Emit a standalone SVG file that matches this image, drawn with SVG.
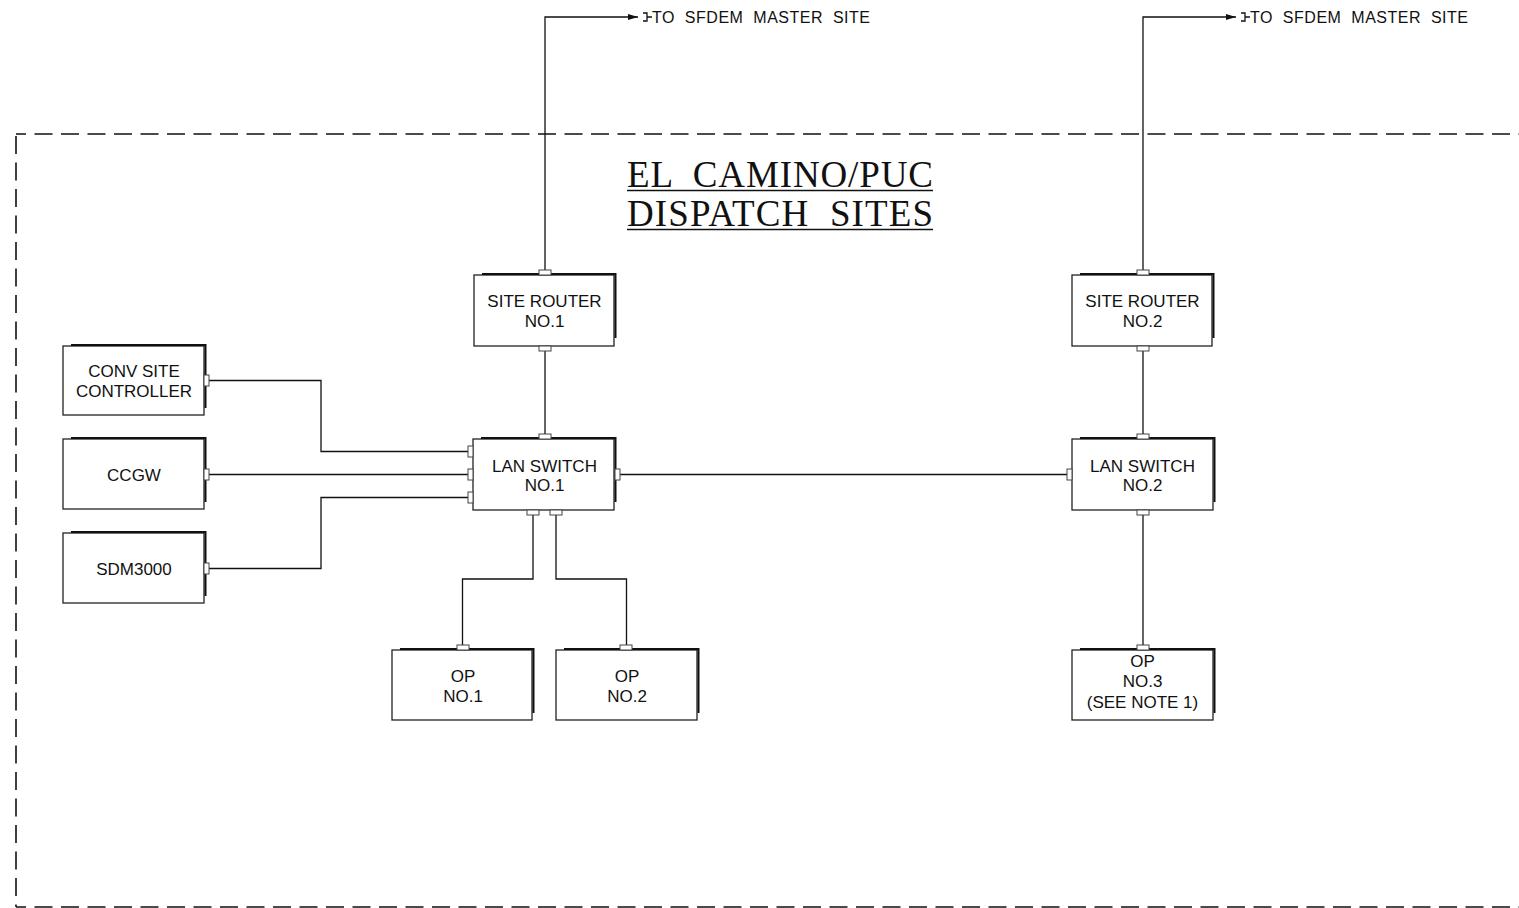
<svg xmlns="http://www.w3.org/2000/svg" width="1519" height="908" viewBox="0 0 1519 908">
<defs>
<style>
.box{fill:#fff;stroke:#222;stroke-width:1.3}
.sh{fill:none;stroke:#111;stroke-width:2}
.port{fill:#fff;stroke:#444;stroke-width:1}
.lbl{font-family:"Liberation Sans",Arial,sans-serif;font-size:17px;fill:#111;text-anchor:middle}
.ext{font-family:"Liberation Sans",Arial,sans-serif;font-size:16px;fill:#111}
.ttl{font-family:"Liberation Serif","Times New Roman",serif;font-size:37px;fill:#111}
.wire{fill:none;stroke:#111;stroke-width:1.3}
.dash{fill:none;stroke:#111;stroke-width:1.6;stroke-dasharray:18 8.5}
</style>
<marker id="arr" markerWidth="10" markerHeight="7" refX="10" refY="3.5" orient="auto" markerUnits="userSpaceOnUse">
<path d="M0,0.5 L10,3.5 L0,6.5 Z" fill="#111"/>
</marker>
</defs>
<rect width="1519" height="908" fill="#fff"/>

<g id="border">
<path class="dash" d="M16,134 V907" stroke-dashoffset="-2"/>
<path class="dash" d="M16,134 H1519" stroke-dashoffset="8"/>
<path class="dash" d="M16,907 H1519" stroke-dashoffset="8"/>
</g>

<g id="title">
<text class="ttl" x="627" y="187" textLength="306" lengthAdjust="spacing" xml:space="preserve">EL  CAMINO/PUC</text>
<line x1="627" y1="190.5" x2="933" y2="190.5" stroke="#111" stroke-width="1.3"/>
<text class="ttl" x="627" y="226" textLength="306" lengthAdjust="spacing" xml:space="preserve">DISPATCH  SITES</text>
<line x1="627" y1="229.5" x2="933" y2="229.5" stroke="#111" stroke-width="1.3"/>
</g>

<g id="connectors">
<path class="wire" d="M545,270 V17 H638" marker-end="url(#arr)"/>
<path class="wire" d="M1143,270 V17 H1236" marker-end="url(#arr)"/>
<path class="wire" d="M643,13 H647 V21 H643 M647,17 H652"/>
<path class="wire" d="M1241,13 H1245 V21 H1241 M1245,17 H1250"/>
<path class="wire" d="M545,351 V434"/>
<path class="wire" d="M1143,351 V434"/>
<path class="wire" d="M209,380.5 H321 V451.5 H468"/>
<path class="wire" d="M209,474.5 H468"/>
<path class="wire" d="M209,568.5 H321 V497.5 H468"/>
<path class="wire" d="M533,515 V579 H462.5 V645"/>
<path class="wire" d="M556,515 V579 H626.5 V645"/>
<path class="wire" d="M620,474.5 H1067"/>
<path class="wire" d="M1143,515 V645"/>
</g>

<g id="offpage-labels">
<text class="ext" x="652" y="23" textLength="218" lengthAdjust="spacing" xml:space="preserve">TO  SFDEM  MASTER  SITE</text>
<text class="ext" x="1250" y="23" textLength="218" lengthAdjust="spacing" xml:space="preserve">TO  SFDEM  MASTER  SITE</text>
</g>

<g id="site-router-1">
<rect class="box" x="474" y="275" width="140" height="71"/>
<polyline class="sh" points="482,274 615.5,274 615.5,338"/>
<rect class="port" x="539" y="270" width="12" height="5"/>
<rect class="port" x="539" y="346" width="12" height="5"/>
<text class="lbl" x="544.5" y="307">SITE ROUTER</text>
<text class="lbl" x="544.5" y="327">NO.1</text>
</g>

<g id="site-router-2">
<rect class="box" x="1072" y="275" width="140" height="71"/>
<polyline class="sh" points="1080,274 1213.5,274 1213.5,338"/>
<rect class="port" x="1137" y="270" width="12" height="5"/>
<rect class="port" x="1137" y="346" width="12" height="5"/>
<text class="lbl" x="1142.5" y="307">SITE ROUTER</text>
<text class="lbl" x="1142.5" y="327">NO.2</text>
</g>

<g id="lan-switch-1">
<rect class="box" x="473" y="439" width="141" height="71"/>
<polyline class="sh" points="481,438 615.5,438 615.5,502"/>
<rect class="port" x="539" y="434" width="12" height="5"/>
<rect class="port" x="468" y="446" width="5" height="11"/>
<rect class="port" x="468" y="469" width="5" height="11"/>
<rect class="port" x="468" y="492" width="5" height="11"/>
<rect class="port" x="615" y="469" width="5" height="11"/>
<rect class="port" x="527" y="510" width="12" height="5"/>
<rect class="port" x="550" y="510" width="12" height="5"/>
<text class="lbl" x="544.5" y="472">LAN SWITCH</text>
<text class="lbl" x="544.5" y="491">NO.1</text>
</g>

<g id="lan-switch-2">
<rect class="box" x="1072" y="439" width="141" height="71"/>
<polyline class="sh" points="1080,438 1214.5,438 1214.5,502"/>
<rect class="port" x="1137" y="434" width="12" height="5"/>
<rect class="port" x="1067" y="469" width="5" height="11"/>
<rect class="port" x="1137" y="510" width="12" height="5"/>
<text class="lbl" x="1142.5" y="472">LAN SWITCH</text>
<text class="lbl" x="1142.5" y="491">NO.2</text>
</g>

<g id="conv-site-controller">
<rect class="box" x="63" y="346" width="141" height="69"/>
<polyline class="sh" points="71,345 205.5,345 205.5,408"/>
<rect class="port" x="204" y="375" width="5" height="11"/>
<text class="lbl" x="134" y="377">CONV SITE</text>
<text class="lbl" x="134" y="397">CONTROLLER</text>
</g>

<g id="ccgw">
<rect class="box" x="63" y="439" width="141" height="70"/>
<polyline class="sh" points="71,438 205.5,438 205.5,502"/>
<rect class="port" x="204" y="469" width="5" height="11"/>
<text class="lbl" x="134" y="481">CCGW</text>
</g>

<g id="sdm3000">
<rect class="box" x="63" y="533" width="141" height="70"/>
<polyline class="sh" points="71,532 205.5,532 205.5,596"/>
<rect class="port" x="204" y="563" width="5" height="11"/>
<text class="lbl" x="134" y="575">SDM3000</text>
</g>

<g id="op-1">
<rect class="box" x="392" y="650" width="140" height="70"/>
<polyline class="sh" points="400,649 533.5,649 533.5,713"/>
<rect class="port" x="457" y="645" width="12" height="5"/>
<text class="lbl" x="463" y="682">OP</text>
<text class="lbl" x="463" y="702">NO.1</text>
</g>

<g id="op-2">
<rect class="box" x="556" y="650" width="141" height="70"/>
<polyline class="sh" points="564,649 698.5,649 698.5,713"/>
<rect class="port" x="620" y="645" width="12" height="5"/>
<text class="lbl" x="627" y="682">OP</text>
<text class="lbl" x="627" y="702">NO.2</text>
</g>

<g id="op-3">
<rect class="box" x="1072" y="650" width="141" height="70"/>
<polyline class="sh" points="1080,649 1214.5,649 1214.5,713"/>
<rect class="port" x="1137" y="645" width="12" height="5"/>
<text class="lbl" x="1142.5" y="667">OP</text>
<text class="lbl" x="1142.5" y="687">NO.3</text>
<text class="lbl" x="1142.5" y="708">(SEE NOTE 1)</text>
</g>
</svg>
